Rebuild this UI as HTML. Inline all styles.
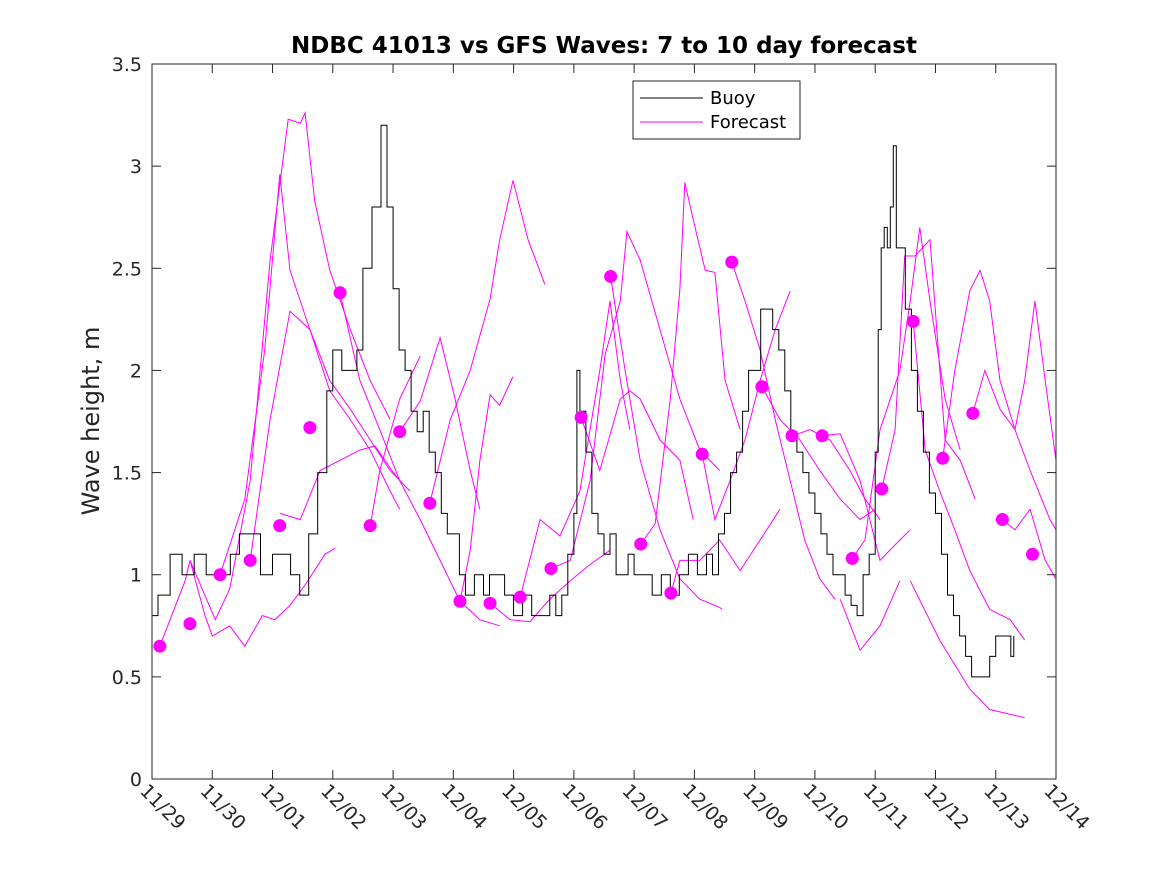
<!DOCTYPE html>
<html><head><meta charset="utf-8">
<style>
html,body{margin:0;padding:0;background:#fff;}
svg{display:block;font-family:"DejaVu Sans","Liberation Sans",sans-serif;}
</style></head>
<body>
<svg id="chart" width="1167" height="875" viewBox="0 0 1167 875" xmlns="http://www.w3.org/2000/svg">
<rect x="0" y="0" width="1167" height="875" fill="#fff"/>
<text x="604" y="53" text-anchor="middle" font-size="23" font-weight="bold" fill="#000">NDBC 41013 vs GFS Waves: 7 to 10 day forecast</text>
<text transform="translate(99,421) rotate(-90)" text-anchor="middle" font-size="24" fill="#262626">Wave height, m</text>
<g id="grid"></g>
<g id="series"></g>
<rect x="152" y="64" width="904" height="715" fill="none" stroke="#262626" stroke-width="1"/>
<g id="axes"></g>
<g>
<rect x="633" y="81" width="167" height="58" fill="#fff" stroke="#262626" stroke-width="1"/>
<line x1="640" y1="98" x2="703" y2="98" stroke="#000" stroke-width="1"/>
<text x="710" y="104" font-size="18" fill="#000">Buoy</text>
<line x1="640" y1="122" x2="703" y2="122" stroke="#ff00ff" stroke-width="1"/>
<text x="710" y="128" font-size="18" fill="#000">Forecast</text>
</g>
</svg>
<script>
const xTickLabels=["11/29","11/30","12/01","12/02","12/03","12/04","12/05","12/06","12/07","12/08","12/09","12/10","12/11","12/12","12/13","12/14"];
const yTicks=[0,0.5,1,1.5,2,2.5,3,3.5];
const buoyDays=[0,0.1,0.3,0.5,0.7,0.9,1.0,1.15,1.3,1.45,1.6,1.8,2.0,2.2,2.3,2.45,2.6,2.75,2.9,3.0,3.15,3.25,3.4,3.5,3.65,3.8,3.9,4.0,4.1,4.2,4.3,4.4,4.5,4.6,4.7,4.8,4.9,5.0,5.1,5.2,5.35,5.5,5.6,5.7,5.85,6.0,6.15,6.3,6.45,6.6,6.7,6.8,6.9,7.0,7.05,7.1,7.2,7.3,7.4,7.5,7.6,7.7,7.8,7.9,8.0,8.15,8.3,8.45,8.6,8.75,8.9,9.05,9.2,9.3,9.4,9.5,9.6,9.7,9.8,9.9,10.0,10.1,10.2,10.3,10.4,10.5,10.6,10.7,10.8,10.9,11.0,11.1,11.2,11.3,11.4,11.5,11.6,11.7,11.8,11.9,12.0,12.05,12.1,12.15,12.2,12.25,12.3,12.35,12.4,12.5,12.6,12.7,12.8,12.9,13.0,13.1,13.2,13.3,13.4,13.5,13.6,13.7,13.8,13.9,14.0,14.1,14.2,14.25,14.3];
const buoyVals=[0.8,0.9,1.1,1.0,1.1,1.0,1.0,1.0,1.1,1.2,1.2,1.0,1.1,1.1,1.0,0.9,1.2,1.5,1.9,2.1,2.0,2.0,2.1,2.5,2.8,3.2,2.8,2.4,2.1,2.0,1.8,1.7,1.8,1.6,1.5,1.3,1.2,1.2,1.0,0.9,1.0,0.9,1.0,1.0,0.9,0.8,0.9,0.8,0.8,0.9,0.8,0.9,1.1,1.3,2.0,1.8,1.6,1.3,1.2,1.1,1.2,1.0,1.0,1.1,1.0,1.0,0.9,1.0,0.9,1.0,1.1,1.0,1.1,1.0,1.2,1.3,1.5,1.6,1.8,2.0,2.0,2.3,2.3,2.2,2.1,1.9,1.7,1.6,1.5,1.4,1.3,1.2,1.1,1.0,1.0,0.9,0.85,0.8,1.0,1.1,1.6,2.2,2.6,2.7,2.6,2.8,3.1,2.6,2.6,2.3,2.0,1.8,1.6,1.4,1.3,1.1,0.9,0.8,0.7,0.6,0.5,0.5,0.5,0.6,0.7,0.7,0.7,0.6,0.7];
const dotDays=[0.13,0.63,1.13,1.63,2.12,2.62,3.12,3.62,4.11,4.61,5.11,5.61,6.11,6.62,7.12,7.61,8.11,8.61,9.13,9.62,10.12,10.62,11.12,11.62,12.11,12.63,13.12,13.62,14.11,14.61];
const dotVals=[0.65,0.76,1.0,1.07,1.24,1.72,2.38,1.24,1.70,1.35,0.87,0.86,0.89,1.03,1.77,2.46,1.15,0.91,1.59,2.53,1.92,1.68,1.68,1.08,1.42,2.24,1.57,1.79,1.27,1.10];
const fc1=[[0.13,0.65],[0.55,0.97],[0.63,1.07],[0.88,0.8],[1.0,0.7],[1.29,0.75],[1.54,0.65],[1.83,0.8],[2.04,0.78],[2.29,0.85],[2.54,0.95],[2.87,1.1],[3.04,1.13]];
const fc2=[[0.63,1.07],[1.05,0.78],[1.29,0.93],[1.63,1.46],[1.96,2.54],[2.26,3.23],[2.46,3.21],[2.54,3.26],[2.7,2.83],[2.95,2.49],[3.29,2.2],[3.62,1.95],[3.95,1.76]];
const fc3=[[1.13,1.0],[1.54,1.37],[1.87,2.1],[2.12,2.96],[2.29,2.49],[2.62,2.2],[2.95,1.9],[3.29,1.76],[3.62,1.61],[3.95,1.41],[4.11,1.32]];
const fc4=[[1.63,1.07],[1.96,1.76],[2.29,2.29],[2.62,2.2],[2.95,1.95],[3.29,1.81],[3.62,1.66],[3.95,1.51],[4.28,1.41]];
const fc5=[[2.12,1.3],[2.46,1.27],[2.79,1.51],[3.12,1.56],[3.45,1.61],[3.7,1.63],[3.98,1.51],[4.11,1.46]];
const fc6=[[3.12,2.38],[3.45,1.95],[3.78,1.71],[4.11,1.46],[4.45,1.27],[4.78,1.07],[5.11,0.87],[5.44,0.78],[5.77,0.75]];
const fc7=[[3.62,1.24],[3.78,1.51],[4.11,1.86],[4.45,2.07]];
const fc8=[[4.11,1.70],[4.45,1.85],[4.78,2.16],[5.03,1.86],[5.28,1.51],[5.44,1.32]];
const fc9=[[4.61,1.35],[4.95,1.76],[5.28,2.0],[5.61,2.35],[5.77,2.64],[5.99,2.93],[6.24,2.64],[6.52,2.42]];
const fc10=[[5.11,0.87],[5.28,1.12],[5.44,1.56],[5.61,1.88],[5.77,1.83],[5.99,1.97]];
const fc11=[[5.61,0.86],[5.94,0.78],[6.27,0.77],[6.6,0.88],[6.94,0.97],[7.27,1.05],[7.6,1.12]];
const fc12=[[6.11,0.89],[6.44,1.27],[6.77,1.19],[7.1,1.41],[7.43,2.0],[7.6,2.34],[7.77,1.95],[7.93,1.71]];
const fc13=[[6.62,1.03],[6.94,1.07],[7.27,1.46],[7.52,2.08],[7.77,2.34],[7.88,2.68],[8.1,2.54],[8.43,2.2],[8.76,1.86],[9.09,1.61],[9.42,1.51]];
const fc14=[[7.12,1.77],[7.43,1.51],[7.77,1.86],[7.93,1.9],[8.1,1.86],[8.43,1.66],[8.76,1.56],[8.98,1.27]];
const fc15=[[7.61,2.46],[7.85,2.0],[8.1,1.56],[8.43,1.22],[8.76,0.98],[9.09,0.88],[9.42,0.84],[9.46,0.83]];
const fc16=[[8.11,1.15],[8.35,1.25],[8.6,1.86],[8.76,2.4],[8.84,2.92],[8.98,2.74],[9.18,2.49],[9.34,2.48],[9.51,1.95],[9.76,1.71]];
const fc17=[[8.61,0.91],[8.76,1.07],[9.09,1.07],[9.42,1.17],[9.76,1.02],[10.09,1.17],[10.42,1.32]];
const fc18=[[9.13,1.59],[9.34,1.27],[9.59,1.46],[9.84,1.66],[10.09,1.95],[10.34,2.2],[10.59,2.39]];
const fc19=[[9.62,2.53],[9.84,2.34],[10.09,2.1],[10.34,1.76],[10.59,1.46],[10.83,1.17],[11.08,0.98],[11.33,0.88]];
const fc20=[[10.12,1.92],[10.42,1.76],[10.75,1.66],[11.08,1.51],[11.42,1.37],[11.75,1.27],[12.0,1.32]];
const fc21=[[10.62,1.68],[10.92,1.71],[11.25,1.66],[11.58,1.51],[11.83,1.37],[12.08,1.27]];
const fc22=[[11.12,1.68],[11.42,1.69],[11.75,1.46],[12.08,1.07],[12.41,1.17],[12.58,1.22]];
const fc23=[[11.62,1.08],[11.83,1.17],[12.08,1.71],[12.41,2.0],[12.58,2.34],[12.74,2.7],[12.91,2.34],[13.16,1.86],[13.41,1.61]];
const fc24=[[12.11,1.42],[12.33,1.71],[12.49,2.56],[12.66,2.56],[12.91,2.64],[13.16,1.66],[13.41,1.56],[13.66,1.37]];
const fc25=[[12.63,2.24],[12.83,1.61],[13.07,1.41],[13.32,1.22],[13.57,1.02],[13.9,0.83],[14.24,0.78],[14.48,0.68]];
const fc26=[[13.12,1.57],[13.32,2.0],[13.57,2.39],[13.74,2.49],[13.9,2.34],[14.07,1.95],[14.32,1.71],[14.57,1.51],[14.9,1.27],[15.0,1.22]];
const fc27=[[13.62,1.79],[13.82,2.0],[14.07,1.81],[14.32,1.71],[14.48,1.95],[14.65,2.34],[14.82,1.95],[15.0,1.56]];
const fc28=[[14.11,1.27],[14.32,1.22],[14.57,1.32],[14.82,1.07],[15.0,0.98]];
const fc29=[[11.42,0.88],[11.75,0.63],[12.08,0.75],[12.41,0.97]];
const fc30=[[12.58,0.97],[13.07,0.68],[13.57,0.44],[13.9,0.34],[14.48,0.30]];
const forecasts=[fc1,fc2,fc3,fc4,fc5,fc6,fc7,fc8,fc9,fc10,fc11,fc12,fc13,fc14,fc15,fc16,fc17,fc18,fc19,fc20,fc21,fc22,fc23,fc24,fc25,fc26,fc27,fc28,fc29,fc30];

const NS="http://www.w3.org/2000/svg";
const X0=152,X1=1056,Y0=779,Y1=64,XMAX=15,YMAX=3.5;
function xs(d){return X0+(X1-X0)*d/XMAX;}
function ys(v){return Y0-(Y0-Y1)*v/YMAX;}
function mk(tag,attrs,parent){const e=document.createElementNS(NS,tag);for(const k in attrs)e.setAttribute(k,attrs[k]);parent.appendChild(e);return e;}
const axes=document.getElementById('axes'),series=document.getElementById('series');

yTicks.forEach(v=>{
  const y=ys(v);
  const t1=mk('line',{x1:X0,y1:y,x2:X0+9,y2:y,stroke:'#262626'},axes);
  
  
  const t2=mk('line',{x1:X1-9,y1:y,x2:X1,y2:y,stroke:'#262626'},axes);
  
  
  const tx=mk('text',{x:X0-10,y:y+7,'text-anchor':'end','font-size':'19',fill:'#262626'},axes);
  tx.textContent=String(v);
  
  
});
xTickLabels.forEach((lab,i)=>{
  const x=xs(i);
  const t1=mk('line',{x1:x,y1:Y0,x2:x,y2:Y0-9,stroke:'#262626'},axes);
  
  
  const t2=mk('line',{x1:x,y1:Y1,x2:x,y2:Y1+9,stroke:'#262626'},axes);
  
  
  const tx=mk('text',{transform:`translate(${x-13},${Y0+13}) rotate(45)`,'text-anchor':'start','font-size':'19',fill:'#262626'},axes);
  tx.textContent=lab;
  
  
});

forecasts.forEach(fc=>{
  const d=fc.map((p,i)=>(i?'L':'M')+xs(p[0]).toFixed(1)+','+ys(p[1]).toFixed(1)).join('');
  const p=mk('path',{d:d,fill:'none',stroke:'#ff00ff','stroke-width':'1'},series);
  
  
});

let bd='';
buoyDays.forEach((t,i)=>{
  const x=xs(t).toFixed(1),y=ys(buoyVals[i]).toFixed(1);
  if(i===0)bd+='M'+x+','+y;else bd+='H'+x+'V'+y;
});
const bp=mk('path',{d:bd,fill:'none',stroke:'#000','stroke-width':'1'},series);



dotDays.forEach((t,i)=>{
  const c=mk('circle',{cx:xs(t),cy:ys(dotVals[i]),r:6.5,fill:'#ff00ff'},series);
  
  
});
</script>
</body></html>
